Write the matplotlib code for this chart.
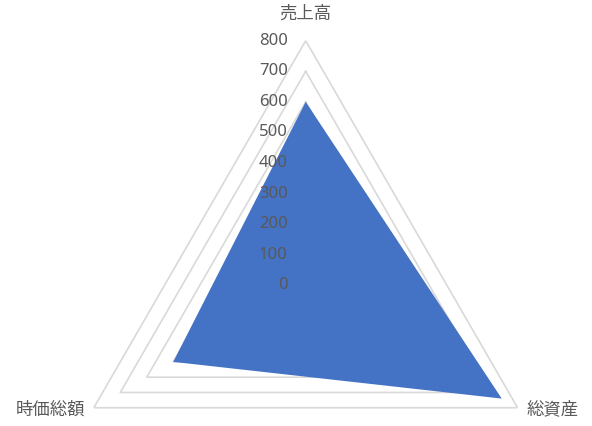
import numpy as np
import matplotlib.pyplot as plt
from matplotlib.transforms import ScaledTranslation

# データ
categories = ['売上高', '総資産', '時価総額']
values = [600, 740, 500]
ticks = [0, 100, 200, 300, 400, 500, 600, 700, 800]

W, H, DPI = 592, 426, 100
cx, cy, R = 305.7, 285.4, 244.7  # 中心と半径(ピクセル)

fig = plt.figure(figsize=(W / DPI, H / DPI), dpi=DPI)
fig.patch.set_facecolor('white')
ax = fig.add_axes([(cx - R) / W, (H - cy - R) / H, 2 * R / W, 2 * R / H],
                  projection='polar')
ax.set_theta_offset(np.pi / 2)
ax.set_theta_direction(-1)
ax.set_ylim(0, ticks[-1])
ax.axis('off')

angles = np.linspace(0, 2 * np.pi, len(categories), endpoint=False)
closed = np.append(angles, angles[0])

# 三角形のグリッド
for t in ticks[1:]:
    ax.plot(closed, [t] * len(closed), color='#D9D9D9', lw=1.2, zorder=1)

# 系列
vals = np.append(values, values[0])
ax.fill(closed, vals, color='#4472C4', zorder=2, lw=0)

# 目盛りラベル
off = ScaledTranslation(-18 / DPI, 0, fig.dpi_scale_trans)
for t in ticks:
    ax.text(0, t, str(t), transform=ax.transData + off, ha='right', va='center',
            fontsize=12, color='#595959', family=['Noto Sans', 'DejaVu Sans'],
            zorder=3)

# 項目ラベル
jp = ['Noto Sans CJK JP', 'DejaVu Sans']
top_off = ScaledTranslation(0, 27 / DPI, fig.dpi_scale_trans)
ax.text(angles[0], ticks[-1], categories[0], transform=ax.transData + top_off,
        ha='center', va='center', fontsize=12.5, color='#595959', family=jp)
r_off = ScaledTranslation(9 / DPI, -2 / DPI, fig.dpi_scale_trans)
ax.text(angles[1], ticks[-1], categories[1], transform=ax.transData + r_off,
        ha='left', va='center', fontsize=12.5, color='#595959', family=jp)
l_off = ScaledTranslation(-9 / DPI, -2 / DPI, fig.dpi_scale_trans)
ax.text(angles[2], ticks[-1], categories[2], transform=ax.transData + l_off,
        ha='right', va='center', fontsize=12.5, color='#595959', family=jp)

fig.savefig('out.png', dpi=DPI)
